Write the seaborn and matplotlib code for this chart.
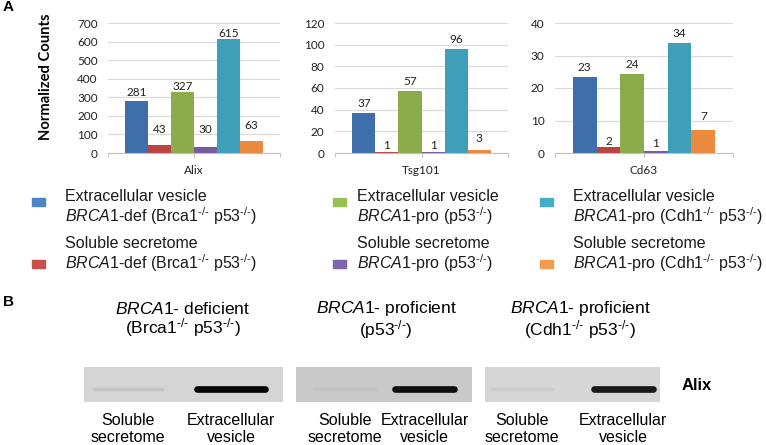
import numpy as np
import pandas as pd
import seaborn as sns
import matplotlib as mpl
import matplotlib.pyplot as plt
from matplotlib.patches import Rectangle

# ---------------- data ----------------
genes = ["Alix", "Tsg101", "Cd63"]
series = ["EV BRCA1-def", "SS BRCA1-def", "EV BRCA1-pro p53", "SS BRCA1-pro p53",
          "EV BRCA1-pro Cdh1", "SS BRCA1-pro Cdh1"]
alix_counts = [281, 43, 327, 30, 615, 63]
tsg101_counts = [37, 1, 57, 1, 96, 3]
cd63_counts = [23.4, 1.7, 24.4, 0.7, 34, 7]
alix_labels = ["281", "43", "327", "30", "615", "63"]
tsg101_labels = ["37", "1", "57", "1", "96", "3"]
cd63_labels = ["23", "2", "24", "1", "34", "7"]
y_max = [700, 120, 40]
y_step = [100, 20, 10]

KO = "$^{\\mathit{\u2010/\u2010}}$"
legend_line1 = ["Extracellular vesicle", "Soluble secretome"] * 3
legend_line2 = [r"$\mathit{BRCA1}$-def (Brca1" + KO + " p53" + KO + ")"] * 2 + \
               [r"$\mathit{BRCA1}$-pro (p53" + KO + ")"] * 2 + \
               [r"$\mathit{BRCA1}$-pro (Cdh1" + KO + " p53" + KO + ")"] * 2

blot_headers = [r"$\mathit{BRCA1}$- deficient", r"$\mathit{BRCA}$1- proficient", r"$\mathit{BRCA1}$- proficient"]
blot_genotypes = ["(Brca1" + KO + " p53" + KO + ")", "(p53" + KO + ")", "(Cdh1" + KO + " p53" + KO + ")"]
lane_names = ["Soluble\nsecretome", "Extracellular\nvesicle"]
band_intensity = [[0.12, 1.0], [0.08, 0.95], [0.04, 0.9]]

# ---------------- style ----------------
bar_colors = ["#3f6fab", "#bc4440", "#8cab4b", "#775ba2", "#3f9fb8", "#e98a3e"]
legend_colors = ["#4a86c6", "#c94f4c", "#9bbf57", "#8064ad", "#46adc8", "#f59b4f"]
mpl.rcParams["mathtext.fontset"] = "custom"
mpl.rcParams["mathtext.rm"] = "Liberation Sans"
mpl.rcParams["mathtext.it"] = "Liberation Sans:italic"
mpl.rcParams["mathtext.bf"] = "Liberation Sans:bold"
mpl.rcParams["font.family"] = ["Liberation Sans", "DejaVu Sans"]

W, H = 766, 445
fig = plt.figure(figsize=(W / 100, H / 100), dpi=100)


def fx(px):
    return px / W


def fy(py):
    return 1 - py / H


chart_font = "Lato"
axes_px = [(108, 172), (335, 173), (555, 178)]
counts = [alix_counts, tsg101_counts, cd63_counts]
labels = [alix_labels, tsg101_labels, cd63_labels]
pads = [[1.7, 7.5, 0, 9, 0, 7.5], [2.5, 1, 3.2, 1, 3.2, 3.9], [3.2, 0.3, 2.5, 1, 2.5, 6]]

for i, gene in enumerate(genes):
    left, width = axes_px[i]
    ax = fig.add_axes([fx(left), fy(153), width / W, 130 / H])
    df = pd.DataFrame({"gene": gene, "series": series, "value": counts[i]})
    sns.barplot(data=df, x="gene", y="value", hue="series", hue_order=series,
                palette=bar_colors, saturation=1, width=0.8, ax=ax, legend=False,
                errorbar=None)
    for c, lab, p in zip(ax.containers, labels[i], pads[i]):
        ax.bar_label(c, labels=[lab], padding=p, fontsize=8.5, family=chart_font, color="#222222")
    ax.set_ylim(0, y_max[i])
    ax.set_xlim(-0.5, 0.5)
    ax.set_yticks(np.arange(0, y_max[i] + 1, y_step[i]))
    ax.yaxis.grid(True, color="#d9d9d9", lw=0.8)
    ax.set_axisbelow(True)
    for s in ["left", "top", "right"]:
        ax.spines[s].set_visible(False)
    ax.spines["bottom"].set_color("#bfbfbf")
    ax.tick_params(axis="y", length=0, pad=7.5, labelsize=8.5, labelcolor="#222222")
    ax.tick_params(axis="x", length=3, color="#bfbfbf", pad=5.5, labelsize=8.5, labelcolor="#222222")
    ax.set_xticks([-0.5, 0.5], minor=True)
    ax.tick_params(axis="x", which="minor", length=3, color="#bfbfbf")
    for t in ax.get_xticklabels() + ax.get_yticklabels():
        t.set_family(chart_font)
    ax.set_xlabel("")
    ax.set_ylabel("")

fig.text(fx(45.5), fy(77), "Normalized Counts", rotation=90, ha="center", va="center",
         fontsize=10.6, fontweight="bold", family=chart_font)
fig.text(fx(3), fy(7), "A", fontsize=11, fontweight="bold", ha="left", va="center")
fig.text(fx(3), fy(302), "B", fontsize=11, fontweight="bold", ha="left", va="center")

# ---------------- legend ----------------
col_sq = [32, 333, 540]
col_tx = [65, 357, 573]
for k in range(len(series)):
    col, row = k // 2, k % 2
    sq_y = 202 if row == 0 else 264
    fig.patches.append(Rectangle((fx(col_sq[col]), fy(sq_y + 4)), 13 / W, 8 / H,
                                 transform=fig.transFigure, color=legend_colors[k]))
    y1 = 197 if row == 0 else 244
    fig.text(fx(col_tx[col]), fy(y1), legend_line1[k], fontsize=11.5, va="center", ha="left", color="#1a1a1a")
    fig.text(fx(col_tx[col]), fy(y1 + 19), legend_line2[k], fontsize=11.5, va="center", ha="left", color="#1a1a1a")

# ---------------- panel B (blots) ----------------
blot_px = [(84, 283), (296, 472), (485, 660)]
blot_bg = ["#d5d5d5", "#c9c9c9", "#d6d6d6"]
lane_pos = [[0.22, 0.74], [0.28, 0.73], [0.21, 0.79]]
header_x = [183, 386, 580]
for b in range(3):
    x0, x1 = blot_px[b]
    bx = fig.add_axes([fx(x0), fy(402), (x1 - x0) / W, 35 / H])
    bx.set_facecolor(blot_bg[b])
    bx.set_xlim(0, 1)
    bx.set_ylim(0, 1)
    for s in bx.spines.values():
        s.set_visible(False)
    for lp, inten in zip(lane_pos[b], band_intensity[b]):
        shade = 0.80 - 0.78 * inten
        bx.plot([lp - 0.17, lp + 0.17], [0.38, 0.38], color=str(shade),
                lw=4.8 if inten > 0.5 else 2.5, solid_capstyle="round",
                alpha=1.0 if inten > 0.5 else 0.5)
    bx.set_yticks([])
    bx.set_xticks(lane_pos[b])
    bx.set_xticklabels(lane_names, fontsize=11.5, linespacing=1.15)
    bx.tick_params(axis="x", length=0, pad=8)
    fig.text(fx(header_x[b]), fy(320), blot_headers[b] + "\n" + blot_genotypes[b],
             fontsize=12.5, ha="center", va="center", linespacing=1.0)

fig.text(fx(682), fy(385), "Alix", fontsize=12, fontweight="bold", ha="left", va="center")

fig.savefig("out.png", dpi=100)
